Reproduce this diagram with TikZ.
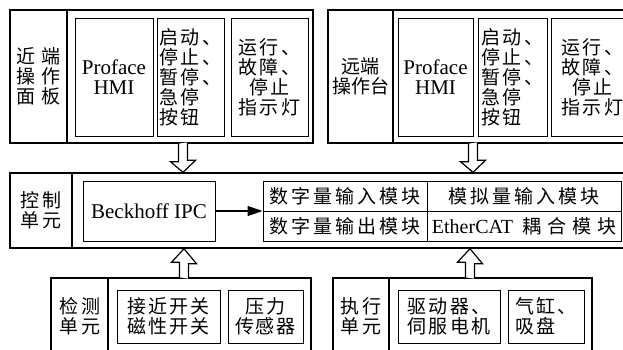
\documentclass[tikz,border=0pt]{standalone}
\usepackage{fontspec}
\setmainfont{Liberation Serif}
\newfontfamily\cjk{Noto Sans CJK SC}
\usetikzlibrary{arrows.meta}
\tikzset{
  outer/.style={draw, line width=1.4pt, inner sep=0pt, fill=white},
  cell/.style={draw, line width=1pt, inner sep=0pt, align=center},
  zh/.style={font={\fontsize{19}{20}\selectfont\cjk\addfontfeatures{LetterSpace=#1}}},
  zh/.default=13,
  lat/.style={font={\fontsize{21}{20}\selectfont}},
  hollow/.style={draw, line width=1.2pt, fill=white, line join=miter},
  flow/.style={line width=1.3pt, -{Triangle[length=15pt,width=10pt]}}
}
\newcommand\boxat[6]{% name, x1, y1, x2, y2, style
  \node[#6, minimum width={(#4)-(#2)}, minimum height={(#5)-(#3)}] (#1) at ({((#2)+(#4))/2},{((#3)+(#5))/2})}
\begin{document}
\begin{tikzpicture}[x=1pt,y=-1pt]
\useasboundingbox (0,0) rectangle (623,349);
\clip (0,0) rectangle (623,349);

% ---------- near-end panel ----------
\boxat{tl}{10}{10}{313}{143}{outer} {};
\boxat{tllab}{10}{10}{67}{143}{cell, line width=1.4pt, zh=30} {近端\\操作\\面板};
\boxat{tlhmi}{75}{18}{153}{136}{cell, lat} {Proface\\HMI};
\boxat{tlbtn}{157}{18}{224}{136}{cell, align=left, zh=12} {启动、\\停止、\\暂停、\\急停\\按钮};
\boxat{tlind}{231}{18}{308}{136}{cell, zh=14} {运行、\\故障、\\停止\\指示灯};

% ---------- remote panel ----------
\boxat{tr}{328}{10}{645}{143}{outer} {};
\boxat{trlab}{328}{10}{393}{143}{cell, line width=1.4pt, zh=0} {远端\\操作台};
\boxat{trhmi}{398}{18}{473}{136}{cell, lat} {Proface\\HMI};
\boxat{trbtn}{478}{18}{547}{136}{cell, align=left, zh=12} {启动、\\停止、\\暂停、\\急停\\按钮};
\boxat{trind}{551}{18}{634}{136}{cell, zh=14} {运行、\\故障、\\停止\\指示灯};

% ---------- control unit ----------
\boxat{cu}{10}{173}{645}{248}{outer} {};
\boxat{culab}{10}{173}{72}{248}{cell, line width=1.4pt, zh=12} {控制\\单元};
\boxat{ipc}{83}{181}{215}{241}{cell, lat} {Beckhoff IPC};
\boxat{din}{263}{181}{427}{211}{cell, zh=16} {数字量输入模块};
\boxat{ain}{427}{181}{621}{211}{cell, zh=16} {模拟量输入模块};
\boxat{dout}{263}{211}{427}{241}{cell, zh=16} {数字量输出模块};
\boxat{ecat}{427}{211}{621}{241}{cell, zh=30} {{\fontsize{20}{20}\selectfont\rmfamily EtherCAT} 耦合模块};

% ---------- detection unit ----------
\boxat{det}{51}{278}{311}{365}{outer} {};
\boxat{detlab}{51}{278}{108}{365}{cell, line width=1.4pt} {};
\node[zh=12, align=center] (detlabt) at (80,316) {检测\\单元};
\boxat{prox}{117}{290}{220}{343}{cell, zh=12} {接近开关\\磁性开关};
\boxat{pres}{228}{290}{303}{343}{cell, zh=10} {压力\\传感器};

% ---------- execution unit ----------
\boxat{exe}{333}{278}{592}{365}{outer} {};
\boxat{exelab}{333}{278}{389}{365}{cell, line width=1.4pt} {};
\node[zh=12, align=center] (exelabt) at (361,316) {执行\\单元};
\boxat{drv}{398}{290}{500}{343}{cell, zh=12} {驱动器、\\伺服电机};
\boxat{cyl}{508}{290}{584}{343}{cell, align=left, zh=12} {气缸、\\吸盘};

% ---------- hollow arrows ----------
\coordinate (a1) at (tl.south -| 183,0);
\coordinate (a2) at (tr.south -| 473,0);
\coordinate (a3) at (det.north -| 184,0);
\coordinate (a4) at (exe.north -| 470,0);
\draw[hollow] (a1) ++(-4.5,0) -- ++(0,18) -- ++(-8,0) -- (a1 |- cu.north) -- ++(12.5,-12) -- ++(-8,0) -- ++(0,-18);
\draw[hollow] (a2) ++(-4.5,0) -- ++(0,18) -- ++(-8,0) -- (a2 |- cu.north) -- ++(12.5,-12) -- ++(-8,0) -- ++(0,-18);
\draw[hollow] (a3) ++(-4.5,0) -- ++(0,-15) -- ++(-8,0) -- (a3 |- cu.south) -- ++(12.5,15) -- ++(-8,0) -- ++(0,15);
\draw[hollow] (a4) ++(-4.5,0) -- ++(0,-15) -- ++(-8,0) -- (a4 |- cu.south) -- ++(12.5,15) -- ++(-8,0) -- ++(0,15);

% ---------- IPC to modules ----------
\draw[flow] (ipc.east) -- (ipc.east -| din.west);
\end{tikzpicture}
\end{document}
